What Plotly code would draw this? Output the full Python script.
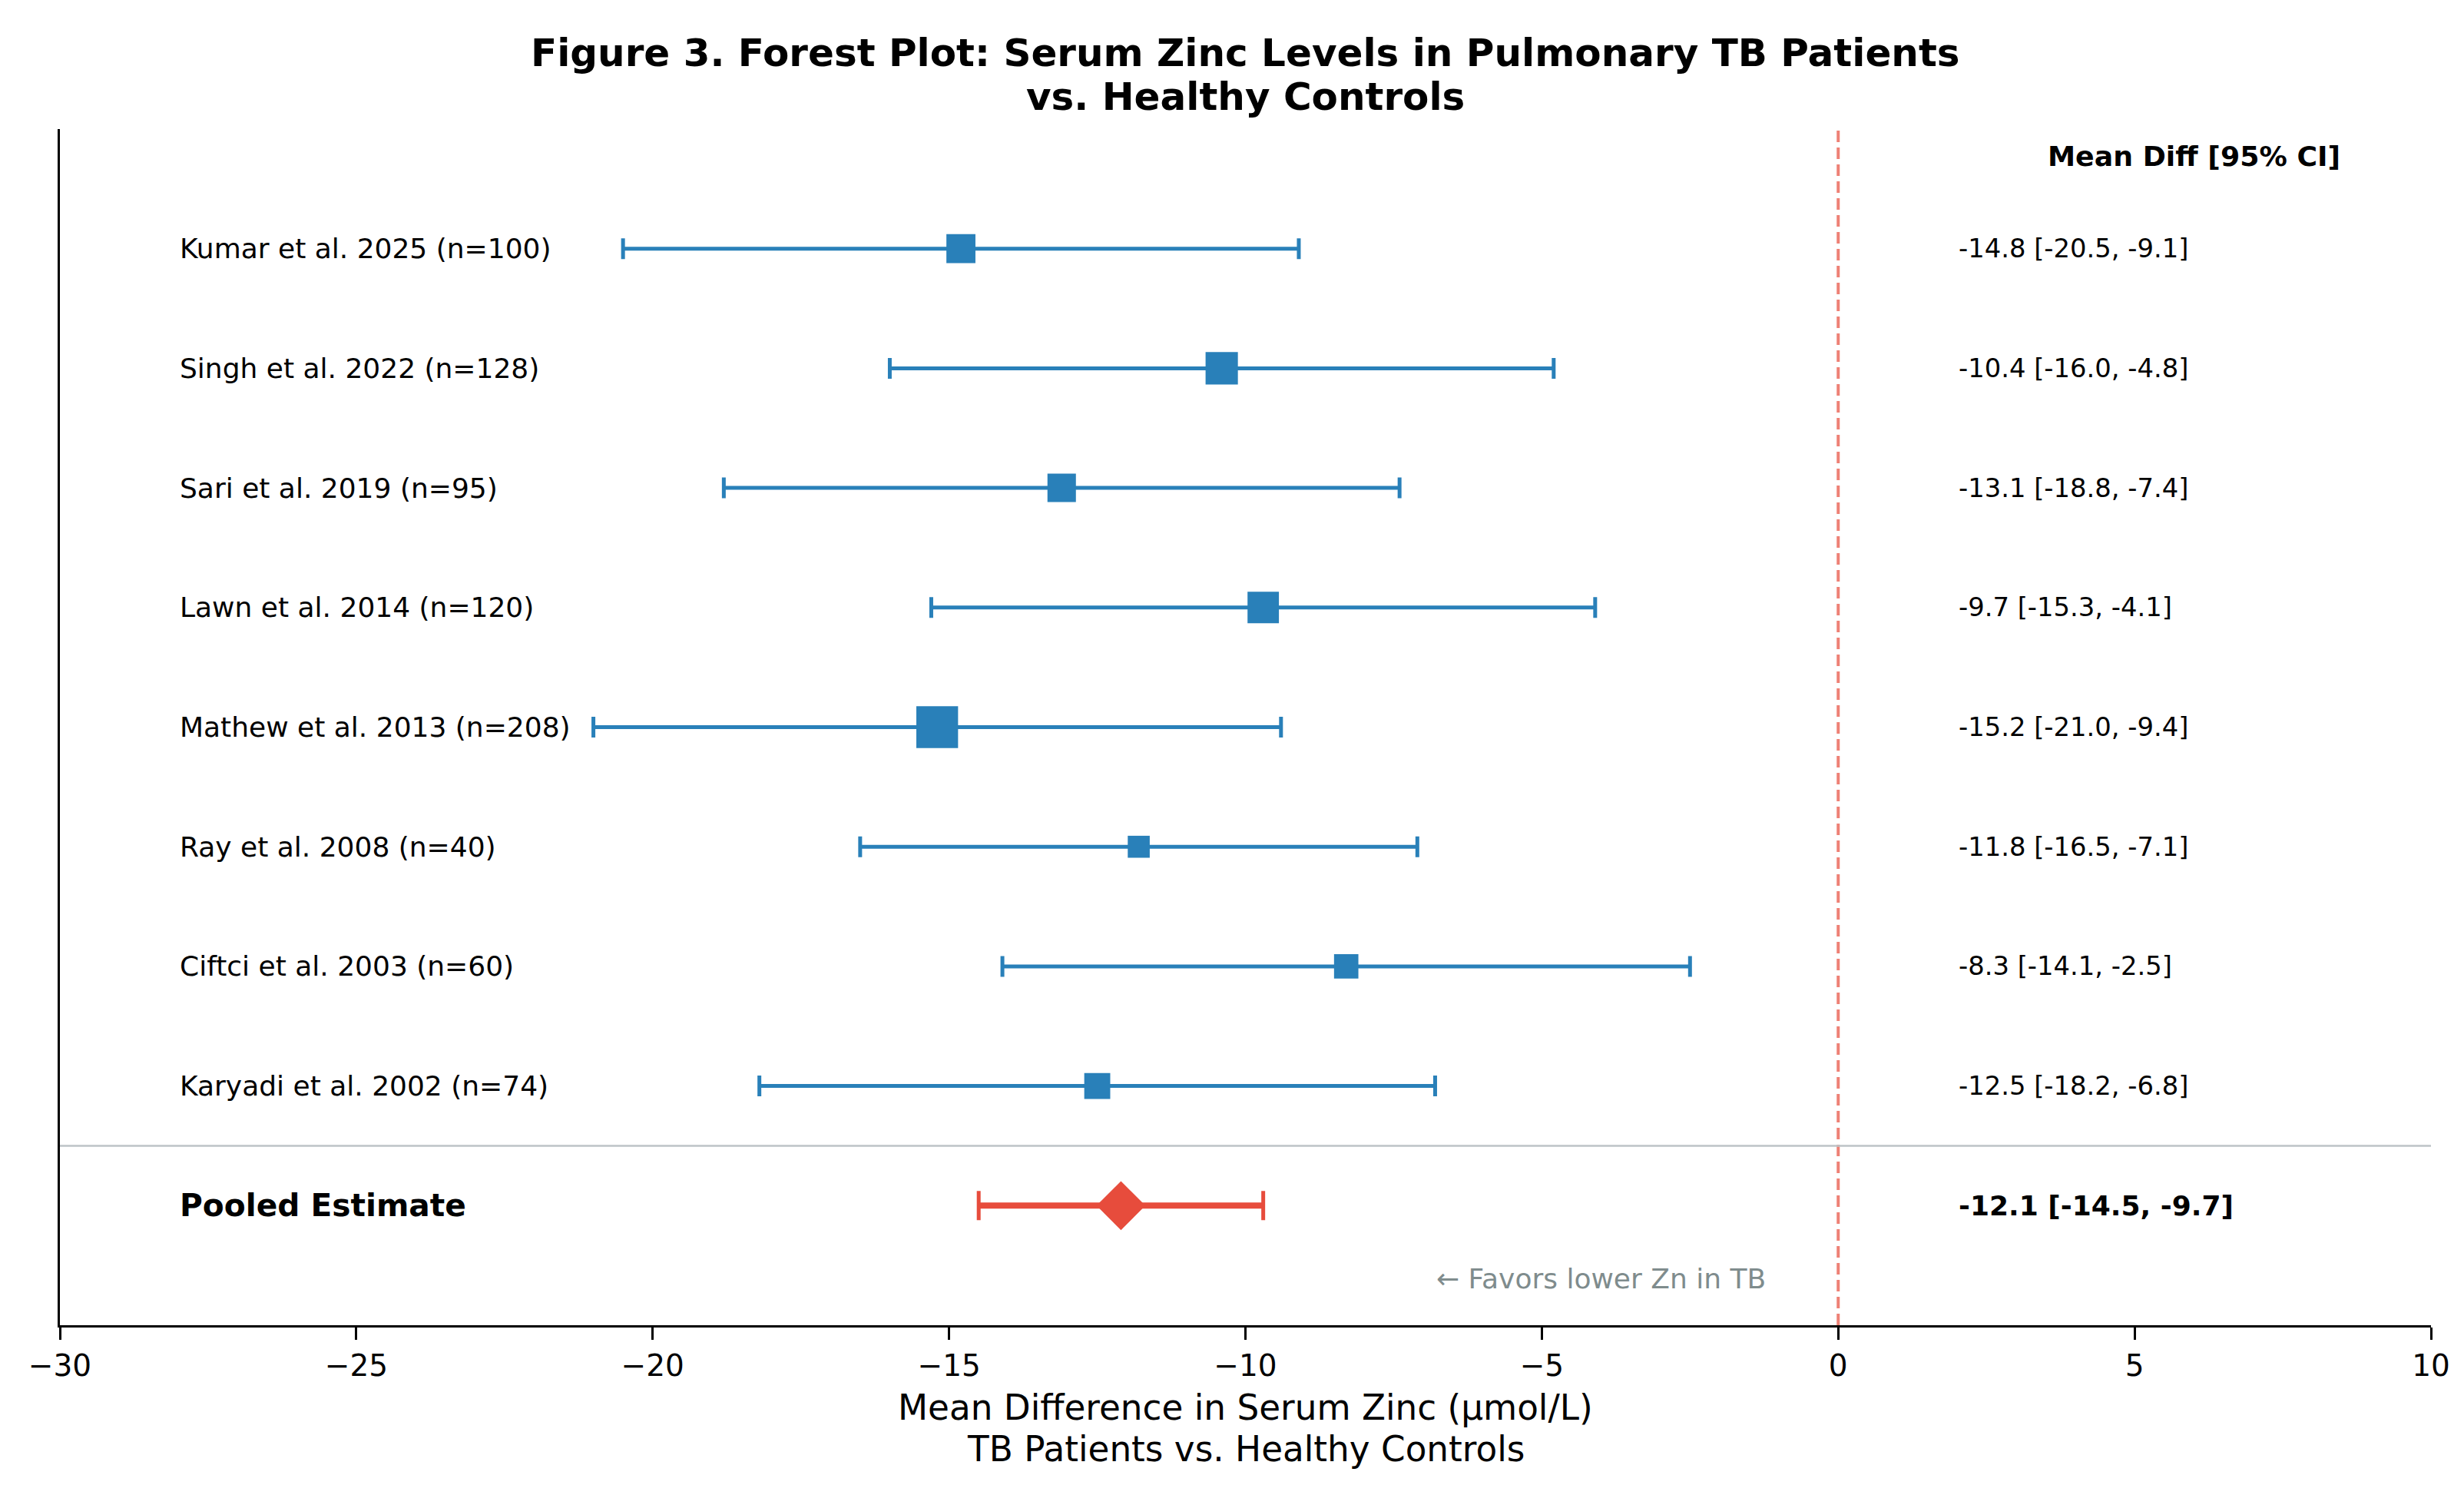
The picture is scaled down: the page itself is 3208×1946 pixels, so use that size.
import plotly.graph_objects as go

# ---------------- data ----------------
study_names = ["Kumar et al. 2025", "Singh et al. 2022", "Sari et al. 2019", "Lawn et al. 2014",
               "Mathew et al. 2013", "Ray et al. 2008", "Ciftci et al. 2003", "Karyadi et al. 2002"]
sample_sizes = [100, 128, 95, 120, 208, 40, 60, 74]
mean_diff = [-14.8, -10.4, -13.1, -9.7, -15.2, -11.8, -8.3, -12.5]
ci_low = [-20.5, -16.0, -18.8, -15.3, -21.0, -16.5, -14.1, -18.2]
ci_high = [-9.1, -4.8, -7.4, -4.1, -9.4, -7.1, -2.5, -6.8]

pooled_label = "Pooled Estimate"
pooled_mean = -12.1
pooled_low = -14.5
pooled_high = -9.7

x_ticks = [-30, -25, -20, -15, -10, -5, 0, 5, 10]
x_tick_text = ["\u221230", "\u221225", "\u221220", "\u221215", "\u221210", "\u22125", "0", "5", "10"]

title_lines = ["Figure 3. Forest Plot: Serum Zinc Levels in Pulmonary TB Patients", "vs. Healthy Controls"]
xlabel_lines = ["Mean Difference in Serum Zinc (\u00b5mol/L)", "TB Patients vs. Healthy Controls"]
header_text = "Mean Diff [95% CI]"
favors_text = "\u2190 Favors lower Zn in TB"

# ---------------- styling ----------------
BLUE = "#2980b9"
RED = "#e74c3c"
GRAY = "#7f8c8d"
FONT = "DejaVu Sans"

# page body has an 8px margin, so the figure is 8px smaller than the window
W, H = 3200, 1938
ML, MR, MT, MB = 70, 43, 160, 221
plot_h = H - MT - MB
OFF = 8  # page offset


def paper_y(py):
    # py: pixel row in the full screenshot
    return (H - MB - (py - OFF)) / plot_h


n_st = len(study_names)
y_pos = [n_st - i for i in range(n_st)]
labels = [f"{nm} (n={n})" for nm, n in zip(study_names, sample_sizes)]
sizes = [22.5 + 0.153 * n for n in sample_sizes]

fig = go.Figure()

# study CIs + squares
fig.add_trace(go.Scatter(
    x=mean_diff, y=y_pos, mode="markers",
    marker=dict(symbol="square", size=sizes, color=BLUE, opacity=1, line=dict(width=0)),
    error_x=dict(type="data", symmetric=False,
                 array=[h - m for h, m in zip(ci_high, mean_diff)],
                 arrayminus=[m - l for m, l in zip(mean_diff, ci_low)],
                 color=BLUE, thickness=5, width=13.5),
    showlegend=False, hoverinfo="skip"))

# pooled CI line (thick) + caps + diamond
fig.add_trace(go.Scatter(
    x=[pooled_low, pooled_high], y=[0, 0], mode="lines",
    line=dict(color=RED, width=8), showlegend=False, hoverinfo="skip"))
fig.add_trace(go.Scatter(
    x=[pooled_mean], y=[0], mode="markers",
    marker=dict(symbol="diamond", size=49, color=RED, opacity=1, line=dict(width=0)),
    error_x=dict(type="data", symmetric=False,
                 array=[pooled_high - pooled_mean], arrayminus=[pooled_mean - pooled_low],
                 color=RED, thickness=5, width=19),
    showlegend=False, hoverinfo="skip"))

annotations = []
for lab, val_m, lo, hi, y in zip(labels, mean_diff, ci_low, ci_high, y_pos):
    annotations.append(dict(x=-28, y=y, xref="x", yref="y", text=lab, showarrow=False,
                            xanchor="left", yanchor="middle", font=dict(size=36, color="black")))
    annotations.append(dict(x=2, y=y, xref="x", yref="y", text=f"{val_m:.1f} [{lo:.1f}, {hi:.1f}]",
                            showarrow=False, xanchor="left", yanchor="middle",
                            font=dict(size=33.8, color="black")))

annotations.append(dict(x=-28, y=0, xref="x", yref="y", text=f"<b>{pooled_label}</b>", showarrow=False,
                        xanchor="left", yanchor="middle", font=dict(size=40.7, color="black")))
annotations.append(dict(x=2, y=0, xref="x", yref="y",
                        text=f"<b>{pooled_mean:.1f} [{pooled_low:.1f}, {pooled_high:.1f}]</b>",
                        showarrow=False, xanchor="left", yanchor="middle", font=dict(size=36, color="black")))
annotations.append(dict(x=6, y=8.77, xref="x", yref="y", text=f"<b>{header_text}</b>", showarrow=False,
                        xanchor="center", yanchor="middle", font=dict(size=36.3, color="black")))
annotations.append(dict(x=-4, y=-0.61, xref="x", yref="y", text=favors_text, showarrow=False,
                        xanchor="center", yanchor="middle", font=dict(size=36, color=GRAY)))

# title lines
for txt, py in zip(title_lines, [69, 126]):
    annotations.append(dict(x=0.5, y=paper_y(py), xref="paper", yref="paper", text=f"<b>{txt}</b>",
                            showarrow=False, xanchor="center", yanchor="middle",
                            font=dict(size=50, color="black")))
# x label lines
for txt, py in zip(xlabel_lines, [1832, 1886]):
    annotations.append(dict(x=0.5, y=paper_y(py), xref="paper", yref="paper", text=txt,
                            showarrow=False, xanchor="center", yanchor="middle",
                            font=dict(size=45.3, color="black")))

shapes = [
    dict(type="line", xref="x", yref="y", x0=0, x1=0, y0=-1, y1=9,
         line=dict(color="rgba(231,76,60,0.7)", width=4, dash="15px,7px"), layer="below"),
    dict(type="line", xref="x", yref="y", x0=-30, x1=10, y0=0.5, y1=0.5,
         line=dict(color="#bdc3c7", width=2.5), layer="below"),
]

fig.update_layout(
    width=W, height=H,
    margin=dict(l=ML, r=MR, t=MT, b=MB, pad=0),
    paper_bgcolor="white", plot_bgcolor="white",
    font=dict(family=FONT, color="black"),
    annotations=annotations, shapes=shapes,
    xaxis=dict(range=[-30, 10], tickvals=x_ticks, ticktext=x_tick_text,
               showgrid=False, zeroline=False, showline=True, linecolor="black", linewidth=3,
               ticks="outside", ticklen=16, tickwidth=3, tickcolor="black",
               tickfont=dict(size=39, color="black")),
    yaxis=dict(range=[-1, 9], showgrid=False, zeroline=False, showline=True, linecolor="black",
               linewidth=3, showticklabels=False, ticks=""),
)

fig.write_html("out.html")
